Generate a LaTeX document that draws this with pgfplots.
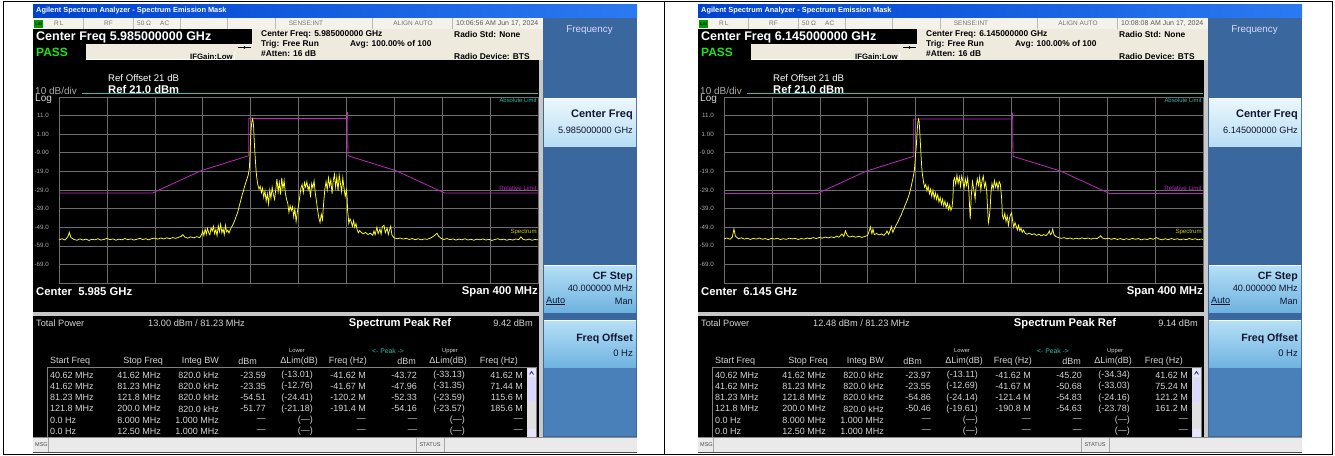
\documentclass[border=0pt]{standalone}
\usepackage{pgfplots}
\pgfplotsset{compat=1.18}
\usepackage{fontspec}
\setmainfont{Liberation Sans}

\definecolor{xpblueA}{RGB}{0,66,206}
\definecolor{xpblueB}{RGB}{44,122,242}
\definecolor{statbg}{RGB}{244,242,234}
\definecolor{beige}{RGB}{238,235,222}
\definecolor{skdark}{RGB}{58,104,158}
\definecolor{sklA}{RGB}{236,247,253}
\definecolor{sklB}{RGB}{184,222,244}
\definecolor{skmA}{RGB}{182,224,246}
\definecolor{skmB}{RGB}{110,178,224}
\definecolor{skbot}{RGB}{74,128,186}
\definecolor{gridc}{RGB}{110,110,110}
\definecolor{labc}{RGB}{170,170,170}
\definecolor{tabc}{RGB}{212,212,212}
\definecolor{tracec}{RGB}{255,255,30}
\definecolor{maskc}{RGB}{190,40,190}
\definecolor{absc}{RGB}{50,190,170}
\definecolor{passg}{RGB}{30,225,30}
\definecolor{framec}{RGB}{200,200,200}
\definecolor{sbar}{RGB}{234,234,234}
\definecolor{navy}{RGB}{18,22,48}

\newcommand{\fs}[1]{\fontsize{#1}{#1}\selectfont}

\newcommand{\trowA}[6]{%
  \node[anchor=west] at (50,#1) {#2};
  \node[anchor=east] at (161,#1) {#3};
  \node[anchor=east] at (219,#1) {#4};
  \node[anchor=east] at (266,#1) {#5};
  \node[anchor=east] at (313,#1) {#6};}
\newcommand{\trowB}[5]{%
  \node[anchor=east] at (366,#1) {#2};
  \node[anchor=east] at (417,#1) {#3};
  \node[anchor=east] at (465,#1) {#4};
  \node[anchor=east] at (523,#1) {#5};}

% #1 x offset, #2 centre freq long, #3 time, #4 centre short, #5 total power, #6 peak ref
\newcommand{\panel}[6]{%
\begin{scope}[x=1pt,y=-1pt,xshift=#1pt,every node/.style={inner sep=0pt}]
 \fill[framec] (33,4) rectangle (637,453);
 \shade[left color=xpblueA,right color=xpblueB] (33,4) rectangle (637,17.5);
 \node[anchor=west,text=white,font=\fs{7.4}\bfseries] at (36,11) {Agilent Spectrum Analyzer - Spectrum Emission Mask};
 % status row
 \fill[statbg] (33,17.5) rectangle (543,29);
 \foreach \xx in {83,133,180,227,275,372,452} \draw[black!28] (\xx,18) -- (\xx,29);
 \fill[green!60!black] (34,20) rectangle (43,27.5);
 \node[text=black,font=\fs{4}\bfseries] at (38.5,23.8) {LXI};
 \node[anchor=west,text=black!55,font=\fs{6.5}] at (54,23.5) {R\,L};
 \node[anchor=west,text=black!55,font=\fs{6.5}] at (104,23.5) {RF};
 \node[anchor=west,text=black!55,font=\fs{6.5}] at (137,23.5) {50 Ω};
 \node[anchor=west,text=black!55,font=\fs{6.5}] at (160,23.5) {AC};
 \node[text=black!55,font=\fs{6.5}] at (306,23.5) {SENSE:INT};
 \node[text=black!55,font=\fs{6.5}] at (413,23.5) {ALIGN AUTO};
 \node[anchor=west,text=black!65,font=\fs{7}] at (456,23.5) {#3 AM Jun 17, 2024};
 % info area
 \fill[beige] (33,29) rectangle (543,60);
 \fill[black] (33,29) rectangle (252,44);
 \node[anchor=west,text=white,font=\fs{12.5}\bfseries] at (36,37) {Center Freq #2 GHz};
 \fill[black] (33,44) rectangle (86,60);
 \node[anchor=west,text=passg,font=\fs{12}\bfseries] at (36,52.5) {PASS};
 \draw[white,line width=0.8pt] (86,59.5) -- (234,59.5) -- (234,52);
 \node[anchor=west,font=\fs{7.8}\bfseries] at (190,56.5) {IFGain:Low};
 \draw[black,line width=0.5pt] (238,47.5) -- (251,47.5);
 \fill[black] (244.5,47.5) circle (1.3);
 \node[anchor=west,font=\fs{8.4}\bfseries] at (261,34.5) {Center Freq: #2 GHz};
 \node[anchor=west,font=\fs{8.4}\bfseries] at (261,44) {Trig: Free Run};
 \node[anchor=west,font=\fs{8.4}\bfseries] at (261,53) {\#Atten: 16 dB};
 \node[anchor=west,font=\fs{8.4}\bfseries] at (350,44) {Avg: 100.00\% of 100};
 \node[anchor=west,font=\fs{8.4}\bfseries] at (454,34.5) {Radio Std: None};
 \node[anchor=west,font=\fs{8.4}\bfseries] at (454,56.5) {Radio Device: BTS};
 % plot area
 \fill[black] (33,60) rectangle (539,312);
 \fill[black!22] (33,312) rectangle (539,316);
 \fill[black] (33,316) rectangle (539,437);
 \node[anchor=west,text=white,font=\fs{9.6}] at (108,78.5) {Ref Offset 21 dB};
 \node[anchor=west,text=white,font=\fs{11.2}\bfseries] at (108,89.5) {Ref 21.0 dBm};
 \node[anchor=west,text=labc,font=\fs{10}] at (35,90.5) {10 dB/div};
 \node[anchor=west,text=black!15,font=\fs{10}] at (35,99.5) {Log};
 \node[anchor=west,text=white,font=\fs{11.3}\bfseries] at (36,292) {Center\ \ #4 GHz};
 \node[anchor=east,text=white,font=\fs{11.3}\bfseries] at (538,292) {Span 400 MHz};
 % table
 \node[anchor=west,text=tabc,font=\fs{9.2}] at (36,323.5) {Total Power};
 \node[anchor=west,text=tabc,font=\fs{9.2}] at (148,323.5) {#5 dBm / 81.23 MHz};
 \node[text=white,font=\fs{11.2}\bfseries] at (400,323.5) {Spectrum Peak Ref};
 \node[anchor=east,text=tabc,font=\fs{9.2}] at (533,323.5) {#6 dBm};
 \node[text=tabc,font=\fs{5.8}] at (297,351) {Lower};
 \node[text=absc,font=\fs{6.8}] at (388,351) {<- Peak ->};
 \node[text=tabc,font=\fs{5.8}] at (450,351) {Upper};
 \begin{scope}[every node/.append style={text=tabc,font=\fs{9}}]
  \node[anchor=west] at (50,361) {Start Freq};
  \node[anchor=east] at (163,361) {Stop Freq};
  \node[anchor=east] at (219,361) {Integ BW};
  \node[anchor=east] at (257,361) {dBm};
  \node[anchor=east] at (318,361) {ΔLim(dB)};
  \node[anchor=east] at (367,361) {Freq (Hz)};
  \node[anchor=east] at (416,361) {dBm};
  \node[anchor=east] at (467,361) {ΔLim(dB)};
  \node[anchor=east] at (518,361) {Freq (Hz)};
 \end{scope}
 \draw[black!50,line width=0.6pt] (47,367.5) rectangle (536,437);
 \fill[black!12] (527,368) rectangle (536,437);
 \fill[white!90!blue] (527.5,368.5) rectangle (535.5,377);
 \draw[blue!50!black,line width=0.6pt] (529.5,374.5) -- (531.5,371.5) -- (533.5,374.5);
 \fill[white!85!blue] (528,378) rectangle (535,402);
 \fill[white!90!blue] (527.5,429) rectangle (535.5,436.5);
 % status bar
 \fill[sbar] (33,437) rectangle (637,452);
 \draw[black!45] (33,437.5) -- (637,437.5);
 \draw[black!70,line width=0.8pt] (33,452.5) -- (637,452.5);
 \node[anchor=west,font=\fs{5.5},text=black!70] at (35,445) {MSG};
 \draw[black!35] (48,438) -- (48,452);
 \draw[black!35] (416,438) -- (416,452);
 \draw[black!35] (444,438) -- (444,452);
 \node[font=\fs{5.5},text=black!70] at (430,445) {STATUS};
 % softkeys
 \fill[skdark] (543,17.5) rectangle (637,437);
 \node[text=white!85!blue,font=\fs{9.8}] at (589.5,30) {Frequency};
 \shade[top color=sklA,bottom color=sklB] (544,98) rectangle (636,146);
 \draw[white] (544,98.5) -- (636,98.5);
 \node[anchor=east,text=navy,font=\fs{11}\bfseries] at (633,115) {Center Freq};
 \node[anchor=east,text=navy,font=\fs{9.2}] at (633,130.5) {#2 GHz};
 \shade[top color=skmA,bottom color=skmB] (544,265) rectangle (636,312);
 \draw[white] (544,265.5) -- (636,265.5);
 \node[anchor=east,text=navy,font=\fs{10.6}\bfseries] at (633,277) {CF Step};
 \node[anchor=east,text=navy,font=\fs{9.2}] at (633,288.5) {40.000000 MHz};
 \node[anchor=west,text=navy,font=\fs{9.2}] at (546,301) {\underline{Auto}};
 \node[anchor=east,text=navy,font=\fs{9.2}] at (633,301) {Man};
 \shade[top color=skmA,bottom color=skmB] (544,320) rectangle (636,368);
 \draw[white] (544,320.5) -- (636,320.5);
 \fill[skbot] (544,368) rectangle (636,436);
 \node[anchor=east,text=navy,font=\fs{10.6}\bfseries] at (633,338.5) {Freq Offset};
 \node[anchor=east,text=navy,font=\fs{9.5}] at (633,353) {0 Hz};
\end{scope}}

\pgfplotsset{spec/.style={
  anchor=south west, scale only axis,
  width=479pt, height=186pt,
  xmin=-200, xmax=200, ymin=-79, ymax=21,
  xtick={-160,-120,...,160}, ytick={-69,-59,...,11},
  yticklabels={-69.0,-59.0,-49.0,-39.0,-29.0,-19.0,-9.00,1.00,11.0},
  xticklabel={\relax},
  major tick length=0pt,
  grid=major, major grid style={draw=gridc,line width=0.6pt},
  axis line style={draw=gridc,line width=0.7pt},
  yticklabel style={font=\fs{6.2}, text=labc, inner sep=0pt, xshift=-10pt},
  clip=false}}

\begin{document}
\begin{tikzpicture}
\path[use as bounding box,fill=white] (0pt,0pt) rectangle (1335pt,-455pt);
\panel{0}{5.985000000}{10:06:56}{5.985}{13.00}{9.42}
\panel{665}{6.145000000}{10:08:08}{6.145}{12.48}{9.14}

\begin{scope}[x=1pt,y=-1pt,every node/.style={inner sep=0pt},every node/.append style={text=tabc,font=\fs{9}}]
 \trowA{375.5}{40.62 MHz}{41.62 MHz}{820.0 kHz}{-23.59}{(-13.01)}
 \trowB{375.5}{-41.62 M}{-43.72}{(-33.13)}{41.62 M}
 \trowA{386.6}{41.62 MHz}{81.23 MHz}{820.0 kHz}{-23.35}{(-12.76)}
 \trowB{386.6}{-41.67 M}{-47.96}{(-31.35)}{71.44 M}
 \trowA{397.7}{81.23 MHz}{121.8 MHz}{820.0 kHz}{-54.51}{(-24.41)}
 \trowB{397.7}{-120.2 M}{-52.33}{(-23.59)}{115.6 M}
 \trowA{408.8}{121.8 MHz}{200.0 MHz}{820.0 kHz}{-51.77}{(-21.18)}
 \trowB{408.8}{-191.4 M}{-54.16}{(-23.57)}{185.6 M}
 \trowA{419.9}{0.0 Hz}{8.000 MHz}{1.000 MHz}{—}{(—)}
 \trowB{419.9}{—}{—}{(—)}{—}
 \trowA{431.0}{0.0 Hz}{12.50 MHz}{1.000 MHz}{—}{(—)}
 \trowB{431.0}{—}{—}{(—)}{—}
\end{scope}
\begin{scope}[x=1pt,y=-1pt,xshift=665pt,every node/.style={inner sep=0pt},every node/.append style={text=tabc,font=\fs{9}}]
 \trowA{375.5}{40.62 MHz}{41.62 MHz}{820.0 kHz}{-23.97}{(-13.11)}
 \trowB{375.5}{-41.62 M}{-45.20}{(-34.34)}{41.62 M}
 \trowA{386.6}{41.62 MHz}{81.23 MHz}{820.0 kHz}{-23.55}{(-12.69)}
 \trowB{386.6}{-41.67 M}{-50.68}{(-33.03)}{75.24 M}
 \trowA{397.7}{81.23 MHz}{121.8 MHz}{820.0 kHz}{-54.86}{(-24.14)}
 \trowB{397.7}{-121.4 M}{-54.83}{(-24.16)}{121.2 M}
 \trowA{408.8}{121.8 MHz}{200.0 MHz}{820.0 kHz}{-50.46}{(-19.61)}
 \trowB{408.8}{-190.8 M}{-54.63}{(-23.78)}{161.2 M}
 \trowA{419.9}{0.0 Hz}{8.000 MHz}{1.000 MHz}{—}{(—)}
 \trowB{419.9}{—}{—}{(—)}{—}
 \trowA{431.0}{0.0 Hz}{12.50 MHz}{1.000 MHz}{—}{(—)}
 \trowB{431.0}{—}{—}{(—)}{—}
\end{scope}

% outer frame
\begin{scope}[x=1pt,y=-1pt]
 \draw[black,line width=1pt] (3.5,1) rectangle (1332.5,454);
 \draw[black,line width=1pt] (664,1) -- (664,454);
\end{scope}

% ---------- left spectrum ----------
\begin{axis}[spec, at={(59pt,-283pt)}]
\addplot[absc,line width=0.6pt] coordinates {(-181,22.8) (200,22.8)};
\addplot[maskc,line width=0.8pt] coordinates {(-200,-30.58) (-121.8,-30.58) (-81.23,-18.58) (-41.62,-10.58) (-41.62,9.42) (41.0,9.42) (41.0,12.8) (41.3,-10.58) (81.23,-18.58) (121.8,-30.58) (200,-30.58)};
\addplot[tracec,line width=0.75pt] coordinates {
(-200,-55.8) (-197.5,-55.2) (-195,-55.9) (-192.5,-54.0) (-191.4,-51.8) (-190,-54.6) (-187.5,-55.6) (-185,-56.0) (-182.5,-55.3) (-180,-55.9)
(-177.5,-55.4) (-175,-56.1) (-172.5,-55.5) (-170,-55.8) (-167.5,-55.2) (-165,-55.9) (-162.5,-55.6) (-160,-55.0) (-157.5,-55.7) (-155,-55.3)
(-152.5,-56.0) (-150,-55.4) (-147.5,-55.8) (-145,-55.1) (-142.5,-55.7) (-140,-55.3) (-137.5,-55.9) (-135,-55.5) (-132.5,-55.0) (-130,-55.6)
(-127.5,-55.2) (-125,-55.8) (-122.5,-55.1) (-120,-54.9) (-117.5,-55.4) (-115,-54.8) (-112.5,-55.3) (-110,-54.7) (-107.5,-55.2) (-105,-54.6)
(-102.5,-55.0) (-100,-54.4) (-98,-53.9) (-96.5,-53.0) (-95,-54.3) (-92.5,-54.9) (-90,-54.2) (-87.5,-54.7) (-85,-54.1) (-82.5,-54.6)
(-81,-53.0) (-80,-51.2) (-79,-53.5) (-78,-50.0) (-77,-52.8) (-76,-49.6) (-75,-51.9) (-74,-53.1) (-73,-49.3) (-72,-51.0)
(-71,-48.5) (-70,-52.5) (-69,-50.2) (-68,-53.6) (-67,-48.2) (-66,-51.4) (-65,-47.4) (-64,-52.0) (-63,-49.8) (-62,-53.0)
(-61,-48.0) (-60,-51.5) (-59,-50.6) (-58,-52.2) (-57,-50.3) (-56,-49.0) (-55,-48.0) (-54,-46.5) (-53,-45.0) (-52,-43.0)
(-51,-41.5) (-50,-39.0) (-49,-36.5) (-48,-34.0) (-47,-31.5) (-46,-29.5) (-45,-27.0) (-44,-25.0) (-43,-23.0) (-42,-21.0)
(-41.6,-19.5) (-41,-17.0) (-40.5,-10.0) (-40,-2.0) (-39.5,4.0) (-39,7.5) (-38.5,9.3) (-38,8.5) (-37.5,5.0) (-37,-2.0)
(-36.5,-8.0) (-36,-13.0) (-35.5,-18.0) (-35,-21.5) (-34.5,-24.0) (-34,-26.0) (-33,-28.5) (-32,-27.0) (-31,-30.5) (-30,-28.0)
(-29,-33.0) (-28,-29.5) (-27,-35.0) (-26,-31.0) (-25,-36.5) (-24,-29.0) (-23,-33.5) (-22,-27.5) (-21,-31.5) (-20,-34.0)
(-19,-29.0) (-18,-23.0) (-17,-30.0) (-16,-25.0) (-15,-31.5) (-14,-22.5) (-13,-28.5) (-12,-24.0) (-11,-30.5) (-10,-34.0)
(-9,-36.0) (-8,-41.0) (-7,-37.5) (-6,-40.0) (-5,-38.0) (-4,-43.5) (-3,-39.0) (-2,-46.0) (-1,-41.0) (0,-37.5)
(1,-33.0) (2,-28.0) (3,-26.0) (4,-30.5) (5,-25.0) (6,-27.5) (7,-24.5) (8,-29.0) (9,-26.5) (10,-33.0)
(11,-25.5) (12,-28.0) (13,-24.0) (14,-30.5) (15,-35.0) (16,-40.0) (17,-44.0) (18,-46.5) (19,-42.0) (20,-45.0)
(21,-36.0) (22,-28.5) (23,-24.5) (24,-29.0) (25,-22.5) (26,-27.0) (27,-23.5) (28,-31.0) (29,-24.0) (30,-20.5)
(31,-27.5) (32,-22.0) (33,-29.5) (34,-21.0) (35,-25.5) (36,-30.0) (37,-22.5) (38,-28.0) (39,-32.5) (40,-29.0)
(40.6,-33.0) (41,-40.0) (41.6,-43.7) (42,-47.0) (43,-44.5) (44,-46.0) (45,-48.5) (46,-45.5) (47,-49.0) (48,-47.0)
(49,-50.5) (50,-52.0) (51,-50.8) (52,-51.5) (54,-52.6) (56,-51.8) (58,-53.0) (60,-52.2) (62,-53.4) (63,-51.0)
(64,-53.0) (65.5,-49.0) (66.5,-52.5) (68,-50.0) (69,-52.8) (70,-48.6) (71.4,-48.0) (72.5,-52.0) (74,-49.5) (75,-53.0)
(76,-50.5) (77,-48.5) (78,-53.2) (79,-54.0) (80,-54.8) (82.5,-55.2) (85,-54.8) (87.5,-55.4) (90,-55.0) (92.5,-55.6)
(95,-55.1) (97.5,-55.7) (100,-55.2) (102.5,-55.8) (105,-55.3) (107.5,-55.5) (110,-54.9) (112,-54.2) (114,-53.2) (115.6,-52.3)
(117,-53.8) (119,-55.0) (121.5,-55.6) (124,-55.1) (126.5,-55.7) (129,-55.3) (131.5,-55.9) (134,-55.4) (136.5,-55.8) (139,-55.2)
(141.5,-55.9) (144,-55.5) (146.5,-56.0) (149,-55.4) (151.5,-55.8) (154,-55.3) (156.5,-55.9) (159,-55.5) (161.5,-56.1) (164,-55.6)
(166.5,-55.2) (169,-55.8) (171.5,-55.4) (174,-56.0) (176.5,-55.5) (179,-55.9) (181.5,-55.3) (184,-55.7) (185.6,-54.2) (187.5,-55.5)
(190,-55.9) (192.5,-55.4) (195,-56.0) (197.5,-55.6) (200,-55.8)};
\node[anchor=north east,text=absc,font=\fs{5.9},inner sep=0pt] at (axis cs:199,20.3) {Absolute Limit};
\node[anchor=south east,text=maskc,font=\fs{6.2},inner sep=0pt] at (axis cs:199,-29.6) {Relative Limit};
\node[anchor=south east,text=tracec!80!black,font=\fs{6.1},inner sep=0pt] at (axis cs:199,-53.3) {Spectrum};
\end{axis}

% ---------- right spectrum ----------
\begin{axis}[spec, at={(724pt,-283pt)}]
\addplot[absc,line width=0.6pt] coordinates {(-181,22.8) (200,22.8)};
\addplot[maskc,line width=0.8pt] coordinates {(-200,-30.86) (-121.8,-30.86) (-81.23,-18.86) (-41.62,-10.86) (-41.62,9.14) (41.0,9.14) (41.0,12.6) (41.3,-10.86) (81.23,-18.86) (121.8,-30.86) (200,-30.86)};
\addplot[tracec,line width=0.75pt] coordinates {
(-200,-55.3) (-197.5,-54.8) (-195,-55.5) (-193,-54.2) (-191.7,-50.0) (-190.5,-53.8) (-188,-55.2) (-185.5,-54.7) (-183,-55.4) (-180.5,-54.9)
(-178,-55.6) (-175.5,-55.0) (-173,-55.4) (-170.5,-54.8) (-168,-55.5) (-165.5,-55.1) (-163,-55.7) (-160.5,-55.0) (-158,-55.4) (-155.5,-54.9)
(-153,-55.6) (-150.5,-55.2) (-148,-55.5) (-145.5,-54.9) (-143,-55.3) (-140.5,-55.0) (-138,-55.6) (-135.5,-55.1) (-133,-55.4) (-130.5,-54.8)
(-128,-55.2) (-125.5,-54.6) (-123,-55.1) (-120.5,-54.5) (-118,-54.9) (-115.5,-54.3) (-113,-54.8) (-110.5,-54.2) (-108,-54.6) (-106,-53.8)
(-104,-54.4) (-101.5,-52.6) (-100,-54.0) (-98.6,-51.0) (-97,-53.5) (-95,-54.3) (-92.5,-53.8) (-90,-54.4) (-87.5,-53.9) (-85,-54.5)
(-82.5,-54.0) (-80,-53.4) (-78.5,-50.5) (-77.8,-48.8) (-76.5,-52.5) (-75.6,-50.0) (-74.5,-53.0) (-72.5,-52.4) (-70.5,-53.2) (-68.5,-52.6)
(-66.5,-53.4) (-64.5,-52.0) (-63.9,-51.0) (-62.5,-52.8) (-61,-50.4) (-60.3,-48.6) (-59,-51.8) (-57.5,-49.5) (-56,-47.5) (-55,-46.5)
(-54,-45.0) (-53,-43.5) (-52,-42.5) (-51,-40.5) (-50,-39.4) (-49,-37.5) (-48,-36.0) (-47,-34.5) (-46,-32.5) (-45,-30.5)
(-44,-28.0) (-43,-25.0) (-42,-22.0) (-41.1,-18.8) (-40.5,-14.0) (-40,-9.5) (-39.4,-5.4) (-39,-0.5) (-38.5,4.5) (-38,7.8)
(-37.5,9.1) (-37,7.5) (-36.5,2.0) (-36,-4.0) (-35.5,-10.0) (-35,-15.5) (-34.5,-19.7) (-34,-22.0) (-33.3,-25.0) (-32.5,-27.5)
(-31.5,-26.0) (-30.5,-29.5) (-29.5,-27.0) (-28.5,-31.0) (-27.5,-28.5) (-26.5,-32.5) (-25.5,-29.0) (-24.5,-33.5) (-23.5,-30.5) (-22.5,-34.0)
(-21.5,-31.5) (-20.5,-35.5) (-19.5,-33.0) (-18.5,-36.7) (-17.5,-34.0) (-16.5,-37.5) (-15.5,-35.0) (-14.5,-38.5) (-13.5,-36.0) (-12.5,-39.5)
(-11.5,-37.0) (-10.5,-40.0) (-9.5,-38.0) (-8.8,-33.0) (-8.3,-24.0) (-7.5,-22.5) (-6.5,-26.0) (-5.5,-21.0) (-4.5,-25.5) (-3.5,-22.0)
(-2.5,-27.0) (-1.5,-21.5) (-0.5,-24.5) (0.5,-28.0) (1.5,-23.0) (2.5,-26.5) (3.5,-22.5) (4.5,-30.0) (5.6,-44.7) (6.5,-32.0)
(7.5,-24.5) (8.5,-28.5) (9.7,-34.0) (10.5,-27.0) (11.5,-23.0) (12.5,-26.5) (13.5,-22.0) (14.5,-29.0) (15.5,-24.0) (16.5,-21.5)
(17.5,-27.5) (18.5,-25.0) (19.4,-30.0) (20.2,-40.0) (20.8,-46.5) (21.5,-44.0) (22.2,-39.0) (23,-30.0) (23.8,-25.5) (24.8,-28.5)
(25.8,-24.0) (26.8,-27.5) (27.8,-25.0) (28.8,-28.6) (29.8,-24.5) (30.8,-26.0) (31.8,-33.0) (32.5,-42.9) (33.5,-44.5) (34.5,-41.5)
(35.5,-46.0) (36.5,-43.0) (37.5,-48.0) (38.5,-44.0) (39.5,-42.0) (40.2,-41.3) (41,-45.6) (42,-49.0) (43,-46.5) (44,-48.5)
(45,-50.5) (46,-48.0) (47,-51.0) (48,-49.5) (49,-51.8) (50,-50.5) (51.5,-52.2) (53,-52.8) (55,-52.2) (57,-53.0)
(59,-52.5) (61,-53.4) (63,-52.8) (65,-53.6) (67,-53.0) (69,-53.5) (70.5,-52.5) (71.7,-51.0) (72.5,-53.0) (73.5,-52.4)
(74.5,-50.0) (75.5,-53.0) (77,-54.0) (79,-54.5) (81.5,-55.0) (84,-54.6) (86.5,-55.2) (89,-54.8) (91.5,-55.4) (94,-54.9)
(96.5,-55.3) (99,-54.7) (101.5,-55.2) (104,-54.8) (106.5,-55.4) (109,-54.9) (111.5,-55.1) (113.5,-54.2) (114.5,-53.6) (116,-54.8)
(118.5,-55.3) (121,-54.9) (123.5,-55.5) (126,-55.0) (128.5,-55.6) (131,-55.1) (133.5,-55.7) (136,-55.2) (138.5,-55.6) (141,-55.0)
(143.5,-55.5) (146,-55.1) (148.5,-55.8) (151,-55.3) (153.5,-55.6) (156,-55.0) (158.5,-55.5) (161.2,-54.6) (163.5,-55.4) (166,-55.8)
(168.5,-55.2) (171,-55.7) (173.5,-55.1) (176,-55.6) (178.5,-55.2) (181,-55.8) (183.5,-55.3) (186,-55.7) (188.5,-55.1) (191,-55.6)
(193.5,-55.2) (196,-55.8) (198.5,-55.3) (200,-55.6)};
\node[anchor=north east,text=absc,font=\fs{5.9},inner sep=0pt] at (axis cs:199,20.3) {Absolute Limit};
\node[anchor=south east,text=maskc,font=\fs{6.2},inner sep=0pt] at (axis cs:199,-29.6) {Relative Limit};
\node[anchor=south east,text=tracec!80!black,font=\fs{6.1},inner sep=0pt] at (axis cs:199,-53.3) {Spectrum};
\end{axis}
\end{tikzpicture}
\end{document}
